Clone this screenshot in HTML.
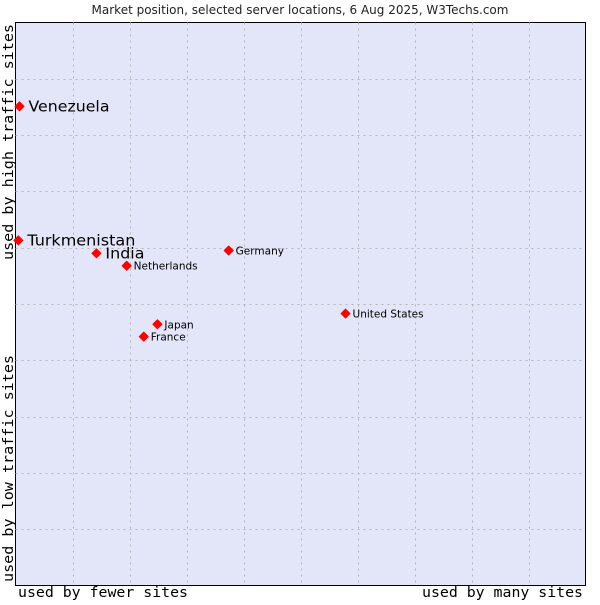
<!DOCTYPE html>
<html><head><meta charset="utf-8"><style>
body{margin:0;background:#fff;width:600px;height:600px;overflow:hidden}
</style></head><body>
<svg id="chart" width="600" height="600" xmlns="http://www.w3.org/2000/svg">
<text x="300" y="14" text-anchor="middle" font-family="DejaVu Sans, sans-serif" font-size="12" fill="#222">Market position, selected server locations, 6 Aug 2025, W3Techs.com</text>
<rect x="15.5" y="22.5" width="570" height="563" fill="#e3e5f8" stroke="#000"/>
<g id="grid"></g>
<g id="points"></g>
<text x="18" y="597" textLength="170" lengthAdjust="spacingAndGlyphs" font-family="DejaVu Sans Mono, monospace" font-size="14" fill="#000">used by fewer sites</text>
<text x="422" y="597" textLength="161" lengthAdjust="spacingAndGlyphs" font-family="DejaVu Sans Mono, monospace" font-size="14" fill="#000">used by many sites</text>
<text transform="translate(13,582) rotate(-90)" textLength="227" lengthAdjust="spacingAndGlyphs" font-family="DejaVu Sans Mono, monospace" font-size="14" fill="#000">used by low traffic sites</text>
<text transform="translate(13,260) rotate(-90)" textLength="236" lengthAdjust="spacingAndGlyphs" font-family="DejaVu Sans Mono, monospace" font-size="14" fill="#000">used by high traffic sites</text>
</svg>
<script>
const names=["Venezuela","Turkmenistan","India","Netherlands","Germany","United States","Japan","France"];
const xVals=[0.7,0.5,14.2,19.5,37.4,57.9,24.9,22.5];
const yVals=[85.1,61.3,59.0,56.8,59.5,48.3,46.4,44.2];
const big=[true,true,true,false,false,false,false,false];
const L=15.5,R=585.5,T=22.5,B=585.5;
const sx=v=>L+(R-L)*v/100, sy=v=>B-(B-T)*v/100;
const NS="http://www.w3.org/2000/svg";
const g=document.getElementById('grid');
for(let i=1;i<10;i++){
  const x=Math.round(sx(i*10))+0.5,y=Math.round(sy(i*10))+0.5;
  const a=document.createElementNS(NS,'line');
  a.setAttribute('x1',x);a.setAttribute('x2',x);a.setAttribute('y1',T);a.setAttribute('y2',B);
  a.setAttribute('stroke','#b4b4b8');a.setAttribute('stroke-dasharray','2,4');
  
  
  g.appendChild(a);
  const b=document.createElementNS(NS,'line');
  b.setAttribute('y1',y);b.setAttribute('y2',y);b.setAttribute('x1',L);b.setAttribute('x2',R);
  b.setAttribute('stroke','#b4b4b8');b.setAttribute('stroke-dasharray','2,4');
  
  
  g.appendChild(b);
}
const p=document.getElementById('points');
names.forEach((n,i)=>{
  const x=sx(xVals[i]),y=sy(yVals[i]);
  const d=document.createElementNS(NS,'path');
  d.setAttribute('d',`M${x-4.5} ${y}L${x} ${y-4.5}L${x+4.5} ${y}L${x} ${y+4.5}Z`);
  d.setAttribute('fill','#f00');
  d.setAttribute('stroke','#f00');
  d.setAttribute('stroke-linejoin','round');
  
  
  p.appendChild(d);
  const t=document.createElementNS(NS,'text');
  t.setAttribute('x',x+(big[i]?9:7));t.setAttribute('y',y+(big[i]?5:4));
  t.setAttribute('font-family','DejaVu Sans, sans-serif');
  t.setAttribute('font-size',big[i]?'15':'10.5');
  if(big[i]){
    t.setAttribute('textLength',n.length*(n.length>6?9:7.8));
    t.setAttribute('lengthAdjust','spacingAndGlyphs');
  }
  t.setAttribute('fill','#000');
  t.textContent=n;
  
  
  p.appendChild(t);
});
</script>
</body></html>
